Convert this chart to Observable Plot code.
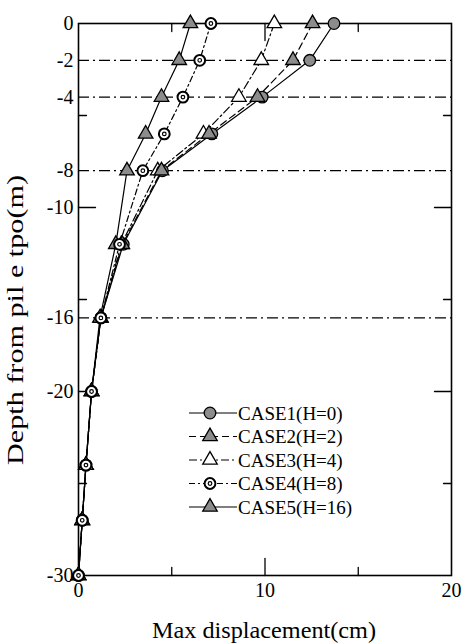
<!DOCTYPE html>
<html><head><meta charset="utf-8">
<script src="https://cdn.jsdelivr.net/npm/d3@7"></script>
<script src="https://cdn.jsdelivr.net/npm/@observablehq/plot@0.6"></script>
<style>
body{margin:0;background:#fff;}
#wrap{position:relative;width:462px;height:644px;font-family:"Liberation Serif",serif;}
#overlay{position:absolute;left:0;top:0;pointer-events:none;}
</style></head><body><div id="wrap"></div>
<script>
// ---- data ----
const depths = [0, -2, -4, -6, -8, -12, -16, -20, -24, -27, -30];
const case1 = [13.7, 12.4, 9.85, 7.15, 4.5, 2.4, 1.2, 0.7, 0.4, 0.2, 0];
const case2 = [12.55, 11.5, 9.6, 7.0, 4.45, 2.35, 1.2, 0.7, 0.4, 0.2, 0];
const case3 = [10.5, 9.8, 8.6, 6.7, 4.25, 2.3, 1.2, 0.7, 0.4, 0.2, 0];
const case4 = [7.1, 6.5, 5.6, 4.6, 3.45, 2.2, 1.2, 0.7, 0.4, 0.2, 0];
const case5 = [6.0, 5.4, 4.45, 3.6, 2.6, 2.0, 1.15, 0.7, 0.4, 0.2, 0];
const seriesNames = ["CASE1(H=0)", "CASE2(H=2)", "CASE3(H=4)", "CASE4(H=8)", "CASE5(H=16)"];
const xTitle = "Max displacement(cm)";
const yTitle = "Depth from pil e tpo(m)";
const xTickLabels = [0, 10, 20];
const yTickLabels = [0, -2, -4, -8, -10, -16, -20, -30];
const refDepths = [-2, -4, -8, -16];
const xMajor = [10], xMinor = [5, 15];
const yMajor = [-10, -20], yMinor = [-5, -15, -25];

const FONT = "Liberation Serif, serif";
const allSeries = [case1, case2, case3, case4, case5];
const styles = [
  {dash: null, symbol: "circle", fill: "#8c8c8c", r: 5.8},
  {dash: "7,4", symbol: "triangle", fill: "#8c8c8c", r: 5.4},
  {dash: "8,3,2,3", symbol: "triangle", fill: "white", r: 5.4},
  {dash: "6,3,2,3", symbol: "circle", fill: "white", r: 5.4, ring: true},
  {dash: null, symbol: "triangle", fill: "#8c8c8c", r: 5.4}
];
const rows = [];
allSeries.forEach((vals, i) => vals.forEach((v, j) => rows.push({s: i, depth: depths[j], disp: v})));

const tickShape = {draw(ctx, l) { ctx.moveTo(0, 0); ctx.lineTo(0, -l); }};
const vec = (data, opts) => Plot.vector(data, {anchor: "start", shape: tickShape, stroke: "black", strokeWidth: 1.3, ...opts});

const marks = [];
marks.push(Plot.ruleY(refDepths, {y: d => d, stroke: "black", strokeWidth: 1.2, strokeDasharray: "11,4,2,4"}));
marks.push(vec(xMajor, {x: d => d, frameAnchor: "bottom", rotate: 0, length: 17}));
marks.push(vec(xMinor, {x: d => d, frameAnchor: "bottom", rotate: 0, length: 8}));
marks.push(vec(xMajor, {x: d => d, frameAnchor: "top", rotate: 180, length: 17}));
marks.push(vec(xMinor, {x: d => d, frameAnchor: "top", rotate: 180, length: 8}));
marks.push(vec(yMajor, {y: d => d, frameAnchor: "left", rotate: 90, length: 17}));
marks.push(vec(yMinor, {y: d => d, frameAnchor: "left", rotate: 90, length: 8}));
marks.push(vec(yMajor, {y: d => d, frameAnchor: "right", rotate: 270, length: 17}));
marks.push(vec(yMinor, {y: d => d, frameAnchor: "right", rotate: 270, length: 8}));
marks.push(Plot.frame({stroke: "black", strokeWidth: 1.6}));
styles.forEach((st, i) => {
  marks.push(Plot.line(rows.filter(d => d.s === i), {x: "disp", y: "depth", stroke: "black", strokeWidth: 1.2, strokeDasharray: st.dash}));
});
[2, 0, 1, 4, 3].forEach(i => {
  const st = styles[i];
  const data = rows.filter(d => d.s === i);
  marks.push(Plot.dot(data, {x: "disp", y: "depth", symbol: st.symbol, r: st.r, fill: st.fill, stroke: "black", strokeWidth: st.ring ? 2 : 1.3}));
  if (st.ring) marks.push(Plot.dot(data, {x: "disp", y: "depth", r: 1.8, fill: "white", stroke: "black", strokeWidth: 1.2}));
});
marks.push(Plot.axisX({ticks: xTickLabels, tickSize: 0, tickPadding: 7, tickFormat: d => String(d), label: null}));
marks.push(Plot.axisY({ticks: yTickLabels, tickSize: 0, tickPadding: 5, tickFormat: d => String(d), label: null}));

const chart = Plot.plot({
  width: 462, height: 644,
  marginLeft: 78, marginRight: 11, marginTop: 23, marginBottom: 69,
  x: {domain: [0, 20]},
  y: {domain: [-30, 0]},
  style: {color: "black", background: "white"},
  marks
});
// enlarge tick labels to match the reference
d3.select(chart).attr("font-family", FONT).attr("font-size", 20)
  .style("font-family", FONT).style("font-size", "20px");
d3.select(chart).selectAll("g").filter(function() { return this.querySelector(":scope > text"); })
  .attr("font-family", FONT).attr("font-size", 20);
d3.select(chart).selectAll("text")
  .attr("font-family", FONT).attr("font-size", 20)
  .style("font-family", FONT).style("font-size", "20px");
const wrap = document.getElementById("wrap");
wrap.appendChild(chart);

// overlay: axis titles and in-plot legend
const ov = d3.select(wrap).append("svg").attr("id", "overlay").attr("width", 462).attr("height", 644)
  .attr("font-family", FONT);
ov.append("text").attr("x", 264).attr("y", 630).attr("dy", "0.35em").attr("text-anchor", "middle")
  .attr("font-size", 24).attr("textLength", 224).attr("lengthAdjust", "spacingAndGlyphs").text(xTitle);
ov.append("text").attr("transform", "translate(15,320) rotate(-90)").attr("dy", "0.35em").attr("text-anchor", "middle")
  .attr("font-size", 24).attr("textLength", 290).attr("lengthAdjust", "spacingAndGlyphs").text(yTitle);

const rowGap = 23.5;
styles.forEach((st, i) => {
  const y = 413 + i * rowGap;
  const g = ov.append("g").attr("transform", `translate(185,${y})`);
  g.append("line").attr("x1", 4).attr("x2", 52).attr("y1", 0).attr("y2", 0)
    .attr("stroke", "black").attr("stroke-width", 1.2).attr("stroke-dasharray", st.dash);
  const sym = d3.symbol(st.symbol === "circle" ? d3.symbolCircle : d3.symbolTriangle, Math.PI * st.r * st.r)();
  g.append("path").attr("d", sym).attr("transform", "translate(25,0)")
    .attr("fill", st.fill).attr("stroke", "black").attr("stroke-width", st.ring ? 2 : 1.3);
  if (st.ring) g.append("circle").attr("cx", 25).attr("cy", 0).attr("r", 1.8).attr("fill", "white").attr("stroke", "black").attr("stroke-width", 1.2);
  g.append("text").attr("x", 53).attr("y", 0).attr("dy", "0.35em").attr("font-size", 19)
    .text(seriesNames[i]);
});
</script></body></html>
